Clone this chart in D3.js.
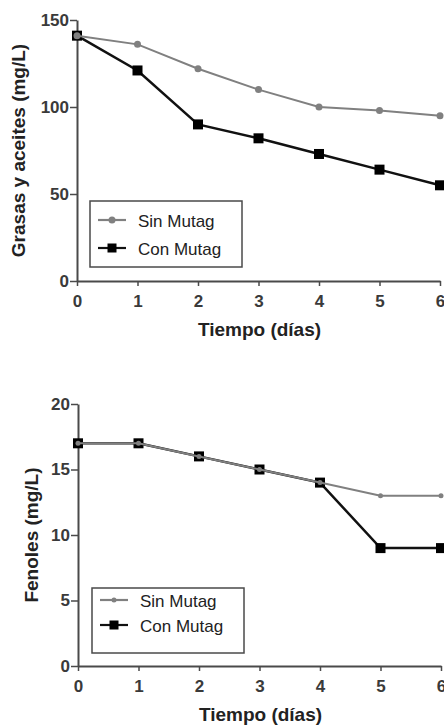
<!DOCTYPE html>
<html>
<head>
<meta charset="utf-8">
<script src="https://cdn.jsdelivr.net/npm/d3@7"></script>
<style>
  body { margin: 0; background: #fff; }
  text { font-family: "Liberation Sans", Arial, sans-serif; }
</style>
</head>
<body>
<svg id="chart" width="444" height="726"></svg>
<script>
// data
const dias = [0, 1, 2, 3, 4, 5, 6];
const grasasSin = [141, 136, 122, 110, 100, 98, 95];
const grasasCon = [141, 121, 90, 82, 73, 64, 55];
const fenolesSin = [17, 17, 16, 15, 14, 13, 13];
const fenolesCon = [17, 17, 16, 15, 14, 9, 9];
const grasasTicks = [0, 50, 100, 150];
const fenolesTicks = [0, 5, 10, 15, 20];
const seriesNames = ["Sin Mutag", "Con Mutag"];

const svg = d3.select("#chart");
const axisColor = "#4a4a4a";
const grey = "#808080";

function panel(opts) {
  let x = d3.scaleLinear().domain([0, 6]).range([opts.x0, opts.x1]);
  let y = d3.scaleLinear().domain([0, opts.ymax]).range([opts.y0, opts.y1]);
  let g = svg.append("g");

  // axes
  let xa = g.append("g").attr("transform", `translate(0,${opts.y0})`)
    .call(d3.axisBottom(x).tickValues(dias).tickFormat(d3.format("d"))
      .tickSize(5).tickSizeOuter(0).tickPadding(9));
  let ya = g.append("g").attr("transform", `translate(${opts.x0},0)`)
    .call(d3.axisLeft(y).tickValues(opts.ticks).tickFormat(d3.format("d"))
      .tickSize(7).tickSizeOuter(0).tickPadding(1));
  [xa, ya].forEach(a => {
    a.select(".domain").attr("stroke", axisColor).attr("stroke-width", 2);
    a.selectAll(".tick line").attr("stroke", axisColor).attr("stroke-width", 1.5);
    a.selectAll(".tick text").attr("fill", "#3a3a3a")
      .style("font-size", "17px").style("font-weight", "bold");
  });

  // x title
  g.append("text").attr("x", (opts.x0 + opts.x1) / 2 + 1).attr("y", opts.y0 + 55)
    .attr("text-anchor", "middle").style("font-size", "19px").style("font-weight", "bold")
    .attr("fill", "#222").text("Tiempo (días)");
  // y title
  g.append("text").attr("transform", `translate(${opts.ytx},${(opts.y0 + opts.y1) / 2}) rotate(-90)`)
    .attr("text-anchor", "middle").style("font-size", "19px").style("font-weight", "bold")
    .attr("fill", "#222").text(opts.ytitle);

  let line = d3.line().x((d, i) => x(dias[i])).y(d => y(d));

  // Con Mutag (black squares)
  g.append("path").datum(opts.con).attr("d", line).attr("fill", "none")
    .attr("stroke", "#111").attr("stroke-width", 2.5);
  g.selectAll(".sq").data(opts.con).enter().append("rect")
    .attr("x", (d, i) => x(dias[i]) - 5).attr("y", d => y(d) - 5)
    .attr("width", 10).attr("height", 10).attr("fill", "#000");

  // Sin Mutag (grey circles)
  g.append("path").datum(opts.sin).attr("d", line).attr("fill", "none")
    .attr("stroke", grey).attr("stroke-width", 2);
  g.selectAll(".ci").data(opts.sin).enter().append("circle")
    .attr("cx", (d, i) => x(dias[i])).attr("cy", d => y(d))
    .attr("r", opts.r).attr("fill", grey);

  // legend
  let lg = g.append("g").attr("transform", `translate(${opts.lx},${opts.ly})`);
  lg.append("rect").attr("width", opts.lw).attr("height", opts.lh)
    .attr("fill", "#fff").attr("stroke", axisColor).attr("stroke-width", 1.5);
  seriesNames.forEach((name, i) => {
    let cy = opts.lrow[i];
    let color = i === 0 ? grey : "#111";
    lg.append("line").attr("x1", 8).attr("x2", 36).attr("y1", cy).attr("y2", cy)
      .attr("stroke", color).attr("stroke-width", 2.2);
    if (i === 0) {
      lg.append("circle").attr("cx", 22).attr("cy", cy).attr("r", opts.r).attr("fill", color);
    } else {
      lg.append("rect").attr("x", 17.5).attr("y", cy - 4.5).attr("width", 9).attr("height", 9).attr("fill", "#000");
    }
    lg.append("text").attr("x", 48).attr("y", cy + 6.5).style("font-size", "17px")
      .attr("fill", "#222").text(name);
  });
}

panel({
  x0: 77, x1: 440, y0: 281, y1: 20, ymax: 150, ticks: grasasTicks,
  sin: grasasSin, con: grasasCon, r: 3.5,
  ytitle: "Grasas y aceites (mg/L)", ytx: 25,
  lx: 90, ly: 201, lw: 152, lh: 66, lrow: [19, 47]
});

panel({
  x0: 78, x1: 441, y0: 666, y1: 404, ymax: 20, ticks: fenolesTicks,
  sin: fenolesSin, con: fenolesCon, r: 2.5,
  ytitle: "Fenoles (mg/L)", ytx: 38,
  lx: 92, ly: 588, lw: 152, lh: 65, lrow: [12, 37]
});
</script>
</body>
</html>
